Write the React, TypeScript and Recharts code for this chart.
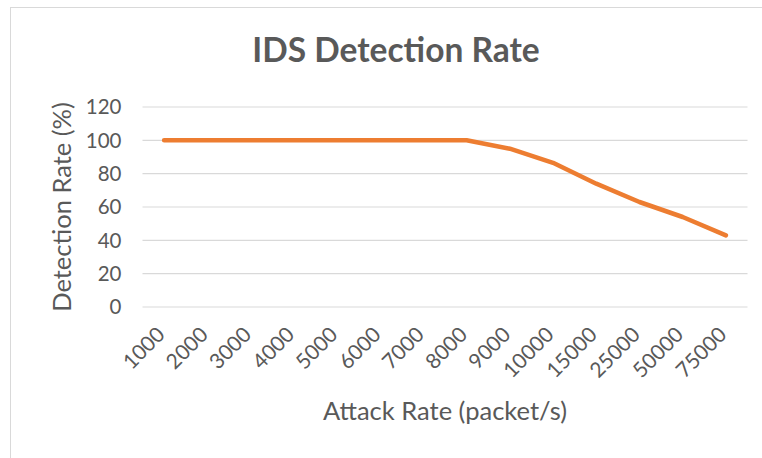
import React from "react";
import { LineChart, Line, XAxis, YAxis, CartesianGrid, Label } from "recharts";

const attackRates = ["1000", "2000", "3000", "4000", "5000", "6000", "7000", "8000", "9000", "10000", "15000", "25000", "50000", "75000"];
const detectionRates = [100, 100, 100, 100, 100, 100, 100, 100, 95, 86.5, 74, 63, 54, 43];
const yTicks = [0, 20, 40, 60, 80, 100, 120];

const data = attackRates.map((rate, i) => ({ rate, detection: detectionRates[i] }));

const TEXT = "#595959";
const FONT = "Lato, 'Open Sans', sans-serif";

const XTick = ({ x, y, payload }: any) => (
  <g transform={`translate(${x + 2},${y + 29})`}>
    <text textAnchor="end" transform="rotate(-45)" fill={TEXT} fontSize={21} fontFamily={FONT}>
      {payload.value}
    </text>
  </g>
);

export default function App() {
  return (
    <div
      style={{
        position: "absolute",
        left: 10,
        top: 7,
        width: 751,
        height: 450,
        borderTop: "1px solid #d9d9d9",
        borderLeft: "1px solid #d9d9d9",
        background: "#fff",
        fontFamily: FONT,
      }}
    >
      <div
        style={{
          position: "absolute",
          left: 185,
          width: 400,
          top: 25.3,
          textAlign: "center",
          fontSize: 33.5,
          lineHeight: "33.5px",
          fontWeight: 700,
          color: TEXT,
        }}
      >
        IDS Detection Rate
      </div>
      <LineChart width={751} height={450} data={data} margin={{ top: 99, right: 14.5, left: 0, bottom: 91 }}>
        <CartesianGrid vertical={false} stroke="#d9d9d9" strokeWidth={1.2} />
        <XAxis
          dataKey="rate"
          interval={0}
          height={60}
          tickSize={0}
          tickMargin={0}
          axisLine={false}
          tickLine={false}
          padding={{ left: 21.6, right: 21.6 }}
          tick={<XTick />}
        >
          <Label
            content={(props: any) => {
              const vb = props.viewBox || { x: 131.5, width: 605 };
              return (
                <text x={vb.x + vb.width / 2} y={412} textAnchor="middle" fill={TEXT} fontSize={25.5} fontFamily={FONT}>
                  Attack Rate (packet/s)
                </text>
              );
            }}
          />
        </XAxis>
        <YAxis
          domain={[0, 120]}
          ticks={yTicks}
          width={131.5}
          tickSize={0}
          tickMargin={21}
          axisLine={false}
          tickLine={false}
          tick={{ fill: TEXT, fontSize: 20.5, fontFamily: FONT }}
        >
          <Label
            content={(props: any) => {
              const vb = props.viewBox || { y: 99, height: 200 };
              const cy = vb.y + vb.height / 2;
              return (
                <text
                  x={60}
                  y={cy}
                  transform={`rotate(-90, 60, ${cy})`}
                  textAnchor="middle"
                  fill={TEXT}
                  fontSize={25.5}
                  fontFamily={FONT}
                >
                  Detection Rate (%)
                </text>
              );
            }}
          />
        </YAxis>
        <Line
          type="linear"
          dataKey="detection"
          stroke="#ED7D31"
          strokeWidth={4.5}
          strokeLinecap="round"
          strokeLinejoin="round"
          dot={false}
          activeDot={false}
          isAnimationActive={false}
        />
      </LineChart>
    </div>
  );
}
